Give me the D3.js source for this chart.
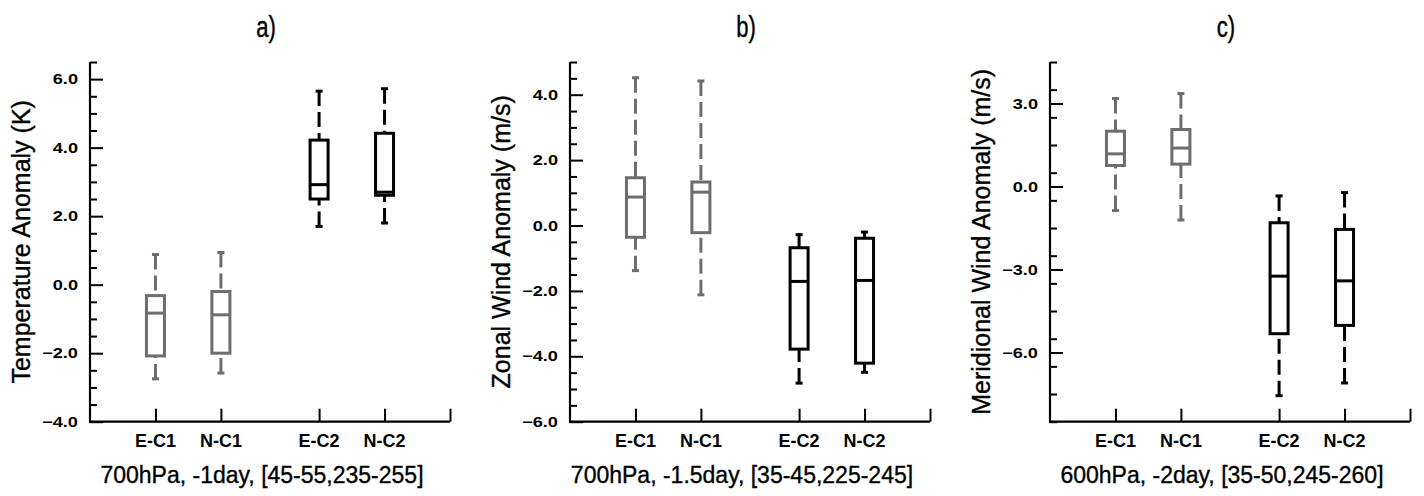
<!DOCTYPE html>
<html>
<head>
<meta charset="utf-8">
<script src="https://cdn.jsdelivr.net/npm/d3@7"></script>
<style>
  html, body { margin: 0; padding: 0; background: #fff; }
  svg { display: block; }
  text { font-family: "Liberation Sans", Arial, Helvetica, sans-serif; fill: #000; }
  .heavy { stroke: #000; stroke-width: 0.35px; }
</style>
</head>
<body>
<svg id="chart" width="1424" height="496"></svg>
<script>
// ---------------- DATA ----------------
const categories = ["E-C1", "N-C1", "E-C2", "N-C2"];
// each entry: [min, q1, median, q3, max]
const tempStats = [
  [-2.75, -2.08, -0.83, -0.32, 0.88],
  [-2.58, -2.00, -0.88, -0.20, 0.94],
  [1.70, 2.50, 2.92, 4.22, 5.65],
  [1.80, 2.61, 2.70, 4.42, 5.72]
];
const zonalStats = [
  [-1.38, -0.36, 0.87, 1.46, 4.52],
  [-2.12, -0.22, 1.02, 1.33, 4.42],
  [-4.82, -3.78, -1.71, -0.68, -0.28],
  [-4.49, -4.21, -1.68, -0.39, -0.20]
];
const meridStats = [
  [-0.87, 0.76, 1.18, 2.00, 3.18],
  [-1.21, 0.81, 1.39, 2.06, 3.36],
  [-7.56, -5.32, -3.24, -1.31, -0.34],
  [-7.10, -5.02, -3.41, -1.55, -0.22]
];
const tempTicks = [-4, -2, 0, 2, 4, 6];
const zonalTicks = [-6, -4, -2, 0, 2, 4];
const meridTicks = [-6, -3, 0, 3];
const panelTitles = ["a)", "b)", "c)"];
const yLabels = ["Temperature Anomaly (K)", "Zonal Wind Anomaly (m/s)", "Meridional Wind Anomaly (m/s)"];
const xTitles = ["700hPa, -1day, [45-55,235-255]", "700hPa, -1.5day, [35-45,225-245]", "600hPa, -2day, [35-50,245-260]"];

// ---------------- LAYOUT ----------------
const panels = [
  { stats: tempStats, ticks: tempTicks, domain: [-4, 6.5], minorStep: 0.5 },
  { stats: zonalStats, ticks: zonalTicks, domain: [-6, 5], minorStep: 0.5 },
  { stats: meridStats, ticks: meridTicks, domain: [-8.5, 4.5], minorStep: 1 }
];
const svg = d3.select("#chart");
const W = 360, plotTop = 62, plotBottom = 421.7;
const lefts = [90, 570, 1050];
const grey = "#6d6d6d";

panels.forEach((p, pi) => {
  const x0 = lefts[pi];
  const g = svg.append("g");
  const x = d3.scaleLinear().domain([0, 5.5]).range([x0, x0 + W]);
  const y = d3.scaleLinear().domain(p.domain).range([plotBottom, plotTop]);
  const pos = i => i + 1 + 0.5 * Math.floor(i / 2);

  // title (tall, condensed look)
  g.append("text").attr("transform", `translate(${x0 + W / 2 - 4},37) scale(0.85,1.12)`)
    .attr("text-anchor", "middle").attr("class", "heavy").style("font-size", "26px").text(panelTitles[pi]);

  // y axis with inward ticks
  const minor = d3.range(p.domain[0], p.domain[1] + 1e-9, p.minorStep)
    .filter(v => !p.ticks.some(t => Math.abs(t - v) < 1e-9));
  const yAxisMinor = d3.axisRight(y).tickValues(minor).tickSize(7).tickFormat("");
  const yAxisMajor = d3.axisRight(y).tickValues(p.ticks).tickSize(13).tickFormat("");
  [yAxisMinor, yAxisMajor].forEach(ax => {
    const a = g.append("g").attr("transform", `translate(${x0},0)`).call(ax);
    a.select(".domain").remove();
    a.selectAll("line").attr("stroke", "#000").attr("stroke-width", 2);
  });
  g.append("line").attr("x1", x0).attr("x2", x0).attr("y1", plotTop).attr("y2", plotBottom + 1)
    .attr("stroke", "#000").attr("stroke-width", 2.2);
  g.selectAll(".ytl").data(p.ticks).join("text")
    .attr("transform", d => `translate(${x0 - 12},${y(d)}) scale(1.3,1)`).attr("dy", "0.36em")
    .attr("text-anchor", "end").style("font-size", "14px").style("font-weight", "bold")
    .text(d => d3.format(".1f")(d));

  // x axis with inward ticks
  const xAxis = d3.axisTop(x).tickValues([1, 2, 3.5, 4.5, 5.5]).tickSize(13).tickFormat("");
  const xa = g.append("g").attr("transform", `translate(0,${plotBottom})`).call(xAxis);
  xa.select(".domain").remove();
  xa.selectAll("line").attr("stroke", "#000").attr("stroke-width", 2);
  g.append("line").attr("x1", x0 - 1).attr("x2", x0 + W).attr("y1", plotBottom).attr("y2", plotBottom)
    .attr("stroke", "#000").attr("stroke-width", 2.2);
  g.selectAll(".xtl").data(categories).join("text")
    .attr("x", (d, i) => x(pos(i))).attr("y", 447)
    .attr("text-anchor", "middle").style("font-size", "18px").style("font-weight", "bold")
    .text(d => d);

  // axis titles
  g.append("text").attr("x", x0 + W / 2 - 8).attr("y", 483).attr("class", "heavy")
    .attr("text-anchor", "middle").style("font-size", "23px").text(xTitles[pi]);
  g.append("text").attr("transform", `translate(${x0 - 60},${(plotTop + plotBottom) / 2}) rotate(-90)`)
    .attr("text-anchor", "middle").attr("class", "heavy").style("font-size", "25px").text(yLabels[pi]);

  // boxes
  const bw = 18, cap = 7;
  p.stats.forEach((s, i) => {
    const cx = x(pos(i));
    const col = i < 2 ? grey : "#000";
    const [mn, q1, md, q3, mx] = s;
    g.append("line").attr("x1", cx).attr("x2", cx).attr("y1", y(mx)).attr("y2", y(q3))
      .attr("stroke", col).attr("stroke-width", 3).attr("stroke-dasharray", "15,6");
    g.append("line").attr("x1", cx).attr("x2", cx).attr("y1", y(mn)).attr("y2", y(q1))
      .attr("stroke", col).attr("stroke-width", 3).attr("stroke-dasharray", "15,6");
    [mn, mx].forEach(v => g.append("line").attr("x1", cx - cap / 2).attr("x2", cx + cap / 2)
      .attr("y1", y(v)).attr("y2", y(v)).attr("stroke", col).attr("stroke-width", 3));
    g.append("rect").attr("x", cx - bw / 2).attr("y", y(q3)).attr("width", bw)
      .attr("height", y(q1) - y(q3)).attr("fill", "none").attr("stroke", col).attr("stroke-width", 3);
    g.append("line").attr("x1", cx - bw / 2).attr("x2", cx + bw / 2).attr("y1", y(md)).attr("y2", y(md))
      .attr("stroke", col).attr("stroke-width", 3);
  });
});
</script>
</body>
</html>
